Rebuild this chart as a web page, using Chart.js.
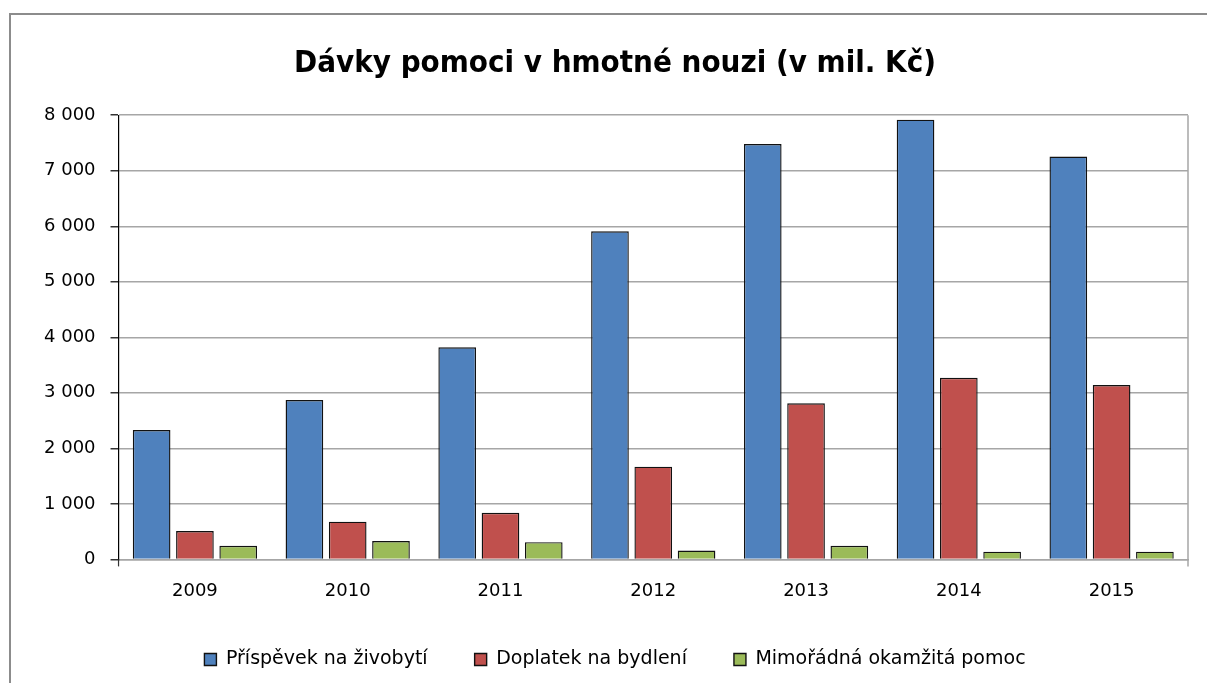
<!DOCTYPE html>
<html>
<head>
<meta charset="utf-8">
<script src="https://cdn.jsdelivr.net/npm/chart.js@4.4.1/dist/chart.umd.min.js"></script>
<style>
  html, body { margin: 0; padding: 0; background: #fff; }
  #wrap { width: 1207px; height: 683px; position: relative; }
</style>
</head>
<body>
<div id="wrap"><canvas id="davky"></canvas></div>
<script>
const roky = ['2009', '2010', '2011', '2012', '2013', '2014', '2015'];
const prispevek = [2330, 2870, 3820, 5910, 7480, 7920, 7255];
const doplatek = [510, 680, 840, 1670, 2810, 3270, 3140];
const mimoradna = [245, 330, 310, 160, 245, 140, 140];
const osaY = [0, 1000, 2000, 3000, 4000, 5000, 6000, 7000, 8000];

const pismo = 'DejaVu Sans';

// ramecek kolem grafu, prava hrana plochy a dolni presahy os
const ramecek = {
  id: 'ramecek',
  afterDraw(chart) {
    const c = chart.ctx;
    const a = chart.chartArea;
    c.save();
    c.strokeStyle = '#8c8c8c';
    c.lineWidth = 2;
    c.strokeRect(10, 14, 1300, 800);
    c.lineWidth = 1.5;
    c.strokeStyle = '#a6a6a6';
    c.beginPath();
    c.moveTo(a.right, a.top);
    c.lineTo(a.right, a.bottom + 7);
    c.stroke();
    c.strokeStyle = '#333';
    c.lineWidth = 1.2;
    c.beginPath();
    c.moveTo(a.left, a.bottom);
    c.lineTo(a.left, a.bottom + 7);
    c.stroke();
    c.restore();
  }
};

const ctx = document.getElementById('davky').getContext('2d');
const graf = new Chart(ctx, {
  type: 'bar',
  data: {
    labels: roky,
    datasets: [
      { label: 'Příspěvek na živobytí', data: prispevek, backgroundColor: '#4f81bd' },
      { label: 'Doplatek na bydlení', data: doplatek, backgroundColor: '#c0504d' },
      { label: 'Mimořádná okamžitá pomoc', data: mimoradna, backgroundColor: '#9bbb59' }
    ]
  },
  options: {
    responsive: true,
    maintainAspectRatio: false,
    animation: false,
    layout: { padding: { left: 42, right: 19, top: 0, bottom: 4 } },
    datasets: {
      bar: {
        borderColor: '#111',
        borderWidth: 1.4,
        categoryPercentage: 0.85,
        barPercentage: 0.87
      }
    },
    scales: {
      x: {
        afterFit(axis) { axis.height -= 12; },
        grid: { display: false },
        border: { color: '#a6a6a6', width: 1.5 },
        ticks: { color: '#000', font: { family: pismo, size: 18 }, padding: 13 }
      },
      y: {
        min: 0,
        max: 8000,
        afterFit(axis) { axis.width -= 13; },
        afterBuildTicks(axis) { axis.ticks = osaY.map(v => ({ value: v })); },
        grid: { color: '#a6a6a6', lineWidth: 1.5, tickLength: 8, tickColor: '#333' },
        border: { color: '#000', width: 1.2 },
        ticks: {
          color: '#000',
          padding: 15,
          font: { family: pismo, size: 18 },
          callback: v => v.toString().replace(/\B(?=(\d{3})+(?!\d))/g, ' ')
        }
      }
    },
    plugins: {
      title: {
        display: true,
        text: 'Dávky pomoci v hmotné nouzi (v mil. Kč)',
        color: '#000',
        font: { family: 'DejaVu Sans Condensed', size: 31, weight: 'bold' },
        padding: { top: 45, bottom: 33 }
      },
      legend: {
        position: 'bottom',
        labels: {
          color: '#000',
          font: { family: pismo, size: 19 },
          boxWidth: 12,
          boxHeight: 12,
          padding: 47,
          useBorderRadius: false
        }
      },
      tooltip: { enabled: false }
    }
  },
  plugins: [ramecek]
});
</script>
</body>
</html>
